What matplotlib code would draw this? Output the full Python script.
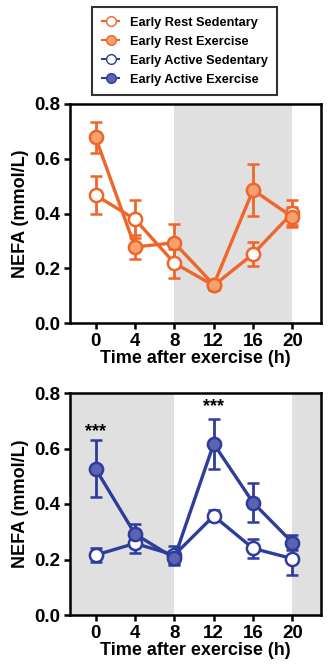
import matplotlib.pyplot as plt
from matplotlib.lines import Line2D

plt.rcParams['font.family'] = ['Liberation Sans', 'DejaVu Sans']
plt.rcParams['font.weight'] = 'bold'

hours = [0, 4, 8, 12, 16, 20]

# Early rest group (top panel)
rest_sed = [0.467, 0.379, 0.219, 0.137, 0.252, 0.403]
rest_sed_err = [0.07, 0.07, 0.053, 0.017, 0.044, 0.045]
rest_ex = [0.678, 0.278, 0.293, 0.14, 0.486, 0.387]
rest_ex_err = [0.058, 0.045, 0.068, 0.015, 0.096, 0.035]

# Early active group (bottom panel)
act_sed = [0.216, 0.258, 0.216, 0.357, 0.24, 0.203]
act_sed_err = [0.025, 0.035, 0.033, 0.02, 0.035, 0.06]
act_ex = [0.527, 0.292, 0.205, 0.617, 0.405, 0.261]
act_ex_err = [0.103, 0.035, 0.025, 0.09, 0.071, 0.028]

stars = ['***', '***']
star_x = [0, 12]
star_y = [0.66, 0.75]

orange = '#F0652A'
orange_fill = '#F4A36E'
blue = '#2E3C9C'
blue_fill = '#5B64B0'
shade = '#E0E0E0'


def draw_series(ax, y, err, color, face):
    ax.errorbar(hours, y, yerr=err, color=color, lw=2.4, capsize=4.5, capthick=2,
                elinewidth=2, marker='o', markersize=9.5, markerfacecolor=face,
                markeredgecolor=color, markeredgewidth=1.8, zorder=3)


def style_axes(ax):
    ax.set_xlim(-2.6, 22.9)
    ax.set_ylim(0, 0.8)
    ax.set_xticks(hours)
    ax.set_yticks([0, 0.2, 0.4, 0.6, 0.8])
    ax.set_yticklabels(['0.0', '0.2', '0.4', '0.6', '0.8'])
    ax.tick_params(labelsize=13.5, width=1.8, length=4, pad=3)
    for s in ['top', 'right', 'left', 'bottom']:
        ax.spines[s].set_linewidth(1.8)
    ax.set_xlabel('Time after exercise (h)', fontsize=13, fontweight='bold', labelpad=0)
    ax.set_ylabel('NEFA (mmol/L)', fontsize=13, fontweight='bold', labelpad=4)


fig = plt.figure(figsize=(3.31, 6.67), dpi=100)
ax1 = fig.add_axes([70 / 331, 1 - 323 / 667, 251 / 331, 219 / 667])
ax2 = fig.add_axes([70 / 331, 1 - 615 / 667, 251 / 331, 222 / 667])

ax1.axvspan(8, 20, color=shade, lw=0, zorder=0)
draw_series(ax1, rest_sed, rest_sed_err, orange, 'white')
draw_series(ax1, rest_ex, rest_ex_err, orange, orange_fill)
style_axes(ax1)

ax2.axvspan(-2.6, 8, color=shade, lw=0, zorder=0)
ax2.axvspan(20, 22.9, color=shade, lw=0, zorder=0)
draw_series(ax2, act_sed, act_sed_err, blue, 'white')
draw_series(ax2, act_ex, act_ex_err, blue, blue_fill)
style_axes(ax2)
for sx, sy, st in zip(star_x, star_y, stars):
    ax2.text(sx, sy, st, ha='center', va='center', fontsize=13, fontweight='bold')

handles = [
    Line2D([], [], color=orange, lw=1.5, marker='o', markersize=7, markerfacecolor='white'),
    Line2D([], [], color=orange, lw=1.5, marker='o', markersize=7, markerfacecolor=orange_fill),
    Line2D([], [], color=blue, lw=1.5, marker='o', markersize=7, markerfacecolor='white'),
    Line2D([], [], color=blue, lw=1.5, marker='o', markersize=7, markerfacecolor=blue_fill),
]
labels = ['Early Rest Sedentary', 'Early Rest Exercise',
          'Early Active Sedentary', 'Early Active Exercise']
leg = fig.legend(handles, labels, loc='upper left', bbox_to_anchor=(92 / 331, 1 - 7 / 667),
                 frameon=True, fancybox=False, edgecolor='black', fontsize=9.2,
                 handlelength=1.4, handletextpad=0.8, labelspacing=0.55, borderpad=0.75,
                 borderaxespad=0)
leg.get_frame().set_linewidth(1.5)
for t in leg.get_texts():
    t.set_fontweight('bold')

fig.savefig('out.png', dpi=100)
